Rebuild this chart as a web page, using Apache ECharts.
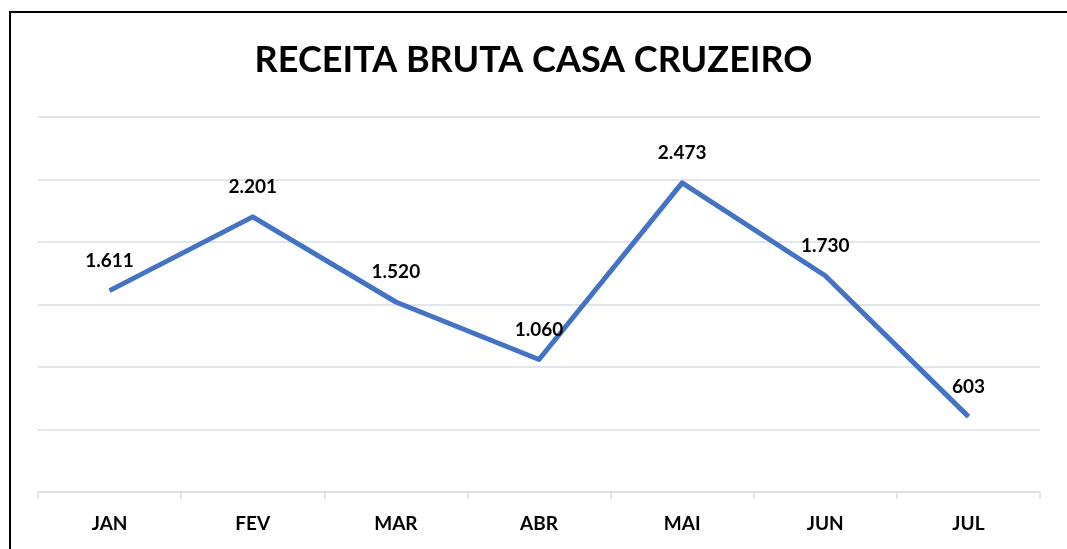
<!DOCTYPE html>
<html lang="pt">
<head>
    <meta charset="UTF-8">
    <script src="https://cdn.jsdelivr.net/npm/echarts@6/dist/echarts.min.js"></script>
    <style>
        * { margin: 0; padding: 0; }
        body { background: #fff; }
        #chart { width: 1067px; height: 549px; }
    </style>
    <title>Receita Bruta Casa Cruzeiro</title>
</head>
<body>
    <div id="chart"></div>
</body>
<script>
    // dados
    var meses = ['JAN', 'FEV', 'MAR', 'ABR', 'MAI', 'JUN', 'JUL'];
    var receita = [1611, 2201, 1520, 1060, 2473, 1730, 603];

    function fmt(v) {
        return String(v).replace(/\B(?=(\d{3})+(?!\d))/g, '.');
    }

    var chart = echarts.init(document.getElementById('chart'));
    var fonte = 'Lato, "Open Sans", sans-serif';

    var option = {
        backgroundColor: '#fff',
        animation: false,
        title: {
            text: 'RECEITA BRUTA CASA CRUZEIRO',
            left: 'center',
            top: 37,
            textStyle: { fontFamily: fonte, fontWeight: 'bold', fontSize: 36, color: '#000' }
        },
        graphic: [{
            type: 'polyline',
            shape: { points: [[10, 560], [10, 12], [1080, 12]] },
            style: { stroke: '#000', lineWidth: 2, fill: null }
        }],
        grid: { left: 38, right: 27, top: 117, bottom: 57 },
        xAxis: {
            type: 'category',
            data: meses,
            boundaryGap: true,
            axisLine: { lineStyle: { color: '#D9DDE4', width: 1.5 } },
            axisTick: { show: true, length: 7, lineStyle: { color: '#D9DDE4', width: 1.5 } },
            axisLabel: { margin: 22, fontFamily: fonte, fontWeight: 'bold', fontSize: 19, color: '#000' }
        },
        yAxis: {
            type: 'value',
            min: 0,
            max: 3000,
            interval: 500,
            axisLabel: { show: false },
            axisLine: { show: false },
            axisTick: { show: false },
            splitLine: { lineStyle: { color: '#D9DDE4', width: 1.5 } }
        },
        series: [{
            type: 'line',
            data: receita,
            symbol: 'circle',
            symbolSize: 1,
            itemStyle: { color: '#4472C4' },
            lineStyle: { color: '#4472C4', width: 5, join: 'round' },
            label: {
                show: true,
                position: 'top',
                distance: 20,
                formatter: function (p) { return fmt(p.value); },
                fontFamily: fonte,
                fontWeight: 'bold',
                fontSize: 19,
                color: '#000'
            }
        }]
    };
    chart.setOption(option);
</script>
</html>
